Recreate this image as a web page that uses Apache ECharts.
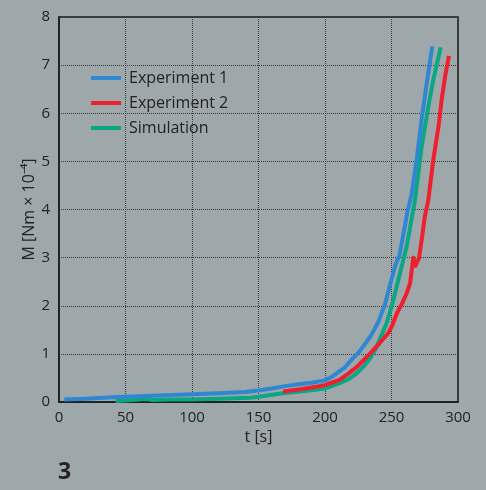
<!DOCTYPE html>
<html>
<head>
<meta charset="utf-8">
<script src="https://cdn.jsdelivr.net/npm/echarts@6/dist/echarts.min.js"></script>
<style>
  html, body { margin: 0; padding: 0; background: #9ea8ab; }
  #chart { width: 486px; height: 490px; }
</style>
</head>
<body>
<div id="chart"></div>
<script>
// Torque M over time t: two experiments and a simulation, as [t, M] pairs
const experiment1 = [
  [4, 0.05], [20, 0.07], [40, 0.10], [60, 0.12], [80, 0.14], [100, 0.16],
  [120, 0.18], [140, 0.21], [150, 0.24], [160, 0.28], [170, 0.33], [180, 0.37],
  [190, 0.40], [200, 0.45], [205, 0.52], [210, 0.62], [215, 0.72], [220, 0.88],
  [225, 1.02], [230, 1.20], [235, 1.40], [240, 1.66], [245, 2.02], [250, 2.55],
  [253, 2.85], [256, 3.05], [259, 3.50], [262, 3.95], [265, 4.30], [269, 5.05],
  [273, 5.95], [276.5, 6.63], [280.7, 7.39]
];
const experiment2 = [
  [168.5, 0.22], [180, 0.26], [190, 0.30], [200, 0.35], [205, 0.40], [211, 0.46],
  [218, 0.60], [224, 0.73], [229, 0.87], [234, 1.01], [241, 1.22], [247.6, 1.43],
  [251, 1.62], [254, 1.84], [258, 2.05], [261.4, 2.26], [264, 2.47], [266.4, 3.00],
  [268, 2.83], [270.7, 2.99], [272.7, 3.37], [275, 3.85], [277.7, 4.20],
  [281.4, 5.03], [285.7, 5.79], [287.7, 6.28], [290.7, 6.83], [293.2, 7.19]
];
const simulation = [
  [42.6, 0.02], [55, 0.04], [66, 0.06], [70, 0.04], [85, 0.05], [100, 0.05],
  [120, 0.07], [143.6, 0.09], [150, 0.11], [168, 0.18], [185, 0.23], [200, 0.28],
  [211, 0.39], [218, 0.48], [224, 0.60], [229, 0.74], [234, 0.91], [238, 1.10],
  [241, 1.29], [246.4, 1.64], [251.4, 2.12], [256.4, 2.68], [261.4, 3.23],
  [267.7, 4.20], [272.7, 5.31], [277.7, 6.14], [281.4, 6.69], [287, 7.37]
];
const seriesNames = ['Experiment 1', 'Experiment 2', 'Simulation'];
const seriesColors = ['#2f87d3', '#ee1f2e', '#0ba684'];

const FONT = 'Open Sans';
const TEXT = '#222';

const chart = echarts.init(document.getElementById('chart'), null, { renderer: 'canvas' });

const lineSeries = [experiment1, experiment2, simulation].map((data, i) => ({
  name: seriesNames[i],
  type: 'line',
  data: data,
  showSymbol: false,
  symbol: 'none',
  smooth: false,
  lineStyle: { color: seriesColors[i], width: 4, cap: 'butt', join: 'round' },
  itemStyle: { color: seriesColors[i] },
  z: 3 + (2 - i)
}));

chart.setOption({
  backgroundColor: '#9ea8ab',
  animation: false,
  grid: {
    left: 59, top: 17, right: 28, bottom: 88,
    show: true, borderColor: '#1a1a1a', borderWidth: 1.5,
    backgroundColor: 'transparent'
  },
  legend: {
    data: seriesNames,
    orient: 'vertical',
    left: 91, top: 70,
    padding: 0,
    icon: 'rect',
    itemWidth: 30, itemHeight: 4,
    itemGap: 9,
    textStyle: { fontFamily: FONT, fontSize: 16, lineHeight: 16, color: TEXT, padding: [0, 0, 0, 3] }
  },
  xAxis: {
    type: 'value', min: 0, max: 300, interval: 50,
    name: 't [s]', nameLocation: 'middle', nameGap: 27,
    nameMoveOverlap: false,
    nameTextStyle: { fontFamily: FONT, fontSize: 16, color: TEXT },
    axisLine: { show: true, lineStyle: { color: '#1a1a1a', width: 1.5 } },
    axisTick: { show: false },
    axisLabel: { fontFamily: FONT, fontSize: 15, color: TEXT, margin: 8 },
    splitLine: { show: true, lineStyle: { color: '#3a3a3a', type: 'dotted', width: 1 } }
  },
  yAxis: {
    type: 'value', min: 0, max: 8, interval: 1,
    name: 'M [Nm × 10⁻⁴]', nameLocation: 'middle', nameGap: 22,
    nameMoveOverlap: false,
    nameTextStyle: { fontFamily: FONT, fontSize: 16, color: TEXT },
    axisLine: { show: true, lineStyle: { color: '#1a1a1a', width: 1.5 } },
    axisTick: { show: false },
    axisLabel: { fontFamily: FONT, fontSize: 15, color: TEXT, margin: 9 },
    splitLine: { show: true, lineStyle: { color: '#3a3a3a', type: 'dotted', width: 1 } }
  },
  graphic: [{
    type: 'text', left: 58, top: 461,
    style: { text: '3', fontFamily: FONT, fontSize: 23, fontWeight: 'bold', fill: TEXT }
  }],
  series: lineSeries
});
</script>
</body>
</html>
